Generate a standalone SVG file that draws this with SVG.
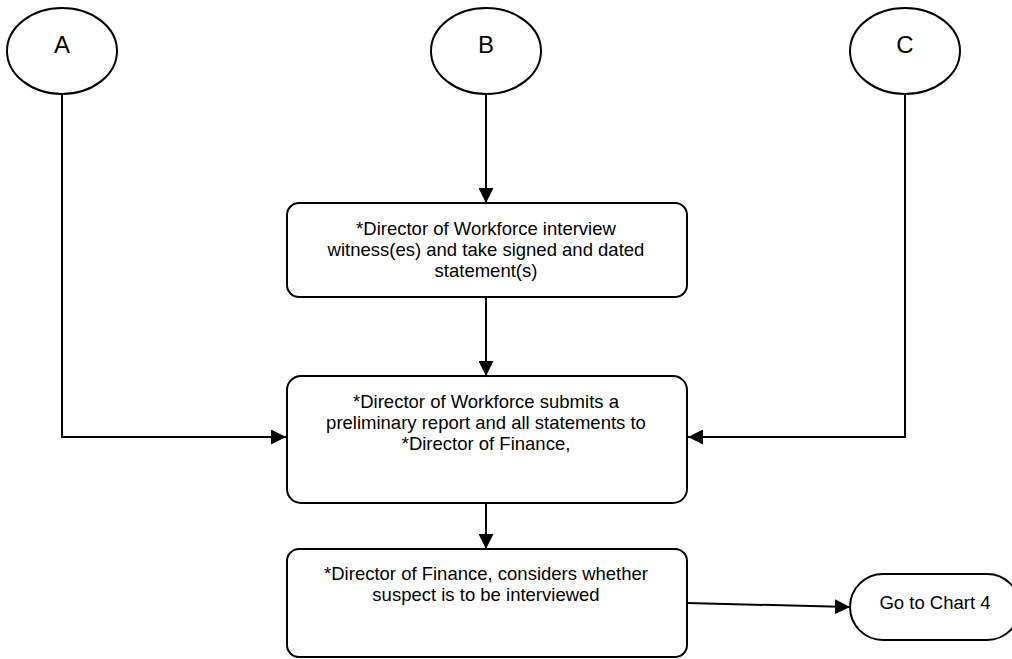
<svg xmlns="http://www.w3.org/2000/svg" width="1012" height="659" viewBox="0 0 1012 659">
<style>
.n{fill:#fff;stroke:#000;stroke-width:2}
.t{font-family:"Liberation Sans",Arial,sans-serif;font-size:18.5px;fill:#000;text-anchor:middle}
.L{font-family:"Liberation Sans",Arial,sans-serif;font-size:24px;fill:#000;text-anchor:middle}
.c{fill:none;stroke:#000;stroke-width:2}
</style>
<defs>
<marker id="ah" viewBox="0 0 15 15" refX="15" refY="7.5" markerWidth="15" markerHeight="15" markerUnits="userSpaceOnUse" orient="auto">
<path d="M0,0 L15,7.5 L0,15 z" fill="#000"/>
</marker>
</defs>
<g id="connectors">
<path class="c" d="M62,95 V437 H286" marker-end="url(#ah)"/>
<path class="c" d="M905,95 V437 H688" marker-end="url(#ah)"/>
<path class="c" d="M486,95 V203" marker-end="url(#ah)"/>
<path class="c" d="M486,297 V376" marker-end="url(#ah)"/>
<path class="c" d="M486,503 V549" marker-end="url(#ah)"/>
<path class="c" d="M687,603 L850,607" marker-end="url(#ah)"/>
</g>
<g id="nodeA">
<ellipse class="n" cx="62" cy="51" rx="55" ry="43"/>
<text class="L" x="62" y="53">A</text>
</g>
<g id="nodeB">
<ellipse class="n" cx="486" cy="51" rx="55" ry="43"/>
<text class="L" x="486" y="53">B</text>
</g>
<g id="nodeC">
<ellipse class="n" cx="905" cy="51" rx="55" ry="43"/>
<text class="L" x="905" y="53">C</text>
</g>
<g id="box1">
<rect class="n" x="287" y="203" width="400" height="94" rx="12"/>
<text class="t" x="486" y="235">*Director of Workforce interview</text>
<text class="t" x="486" y="256">witness(es) and take signed and dated</text>
<text class="t" x="486" y="277">statement(s)</text>
</g>
<g id="box2">
<rect class="n" x="287" y="376" width="400" height="127" rx="14"/>
<text class="t" x="486" y="408">*Director of Workforce submits a</text>
<text class="t" x="486" y="429">preliminary report and all statements to</text>
<text class="t" x="486" y="450">*Director of Finance,</text>
</g>
<g id="box3">
<rect class="n" x="287" y="549" width="400" height="108" rx="12"/>
<text class="t" x="486" y="580">*Director of Finance, considers whether</text>
<text class="t" x="486" y="601">suspect is to be interviewed</text>
</g>
<g id="goto">
<rect class="n" x="850" y="574" width="170" height="66" rx="33"/>
<text class="t" x="935" y="609">Go to Chart 4</text>
</g>
</svg>
